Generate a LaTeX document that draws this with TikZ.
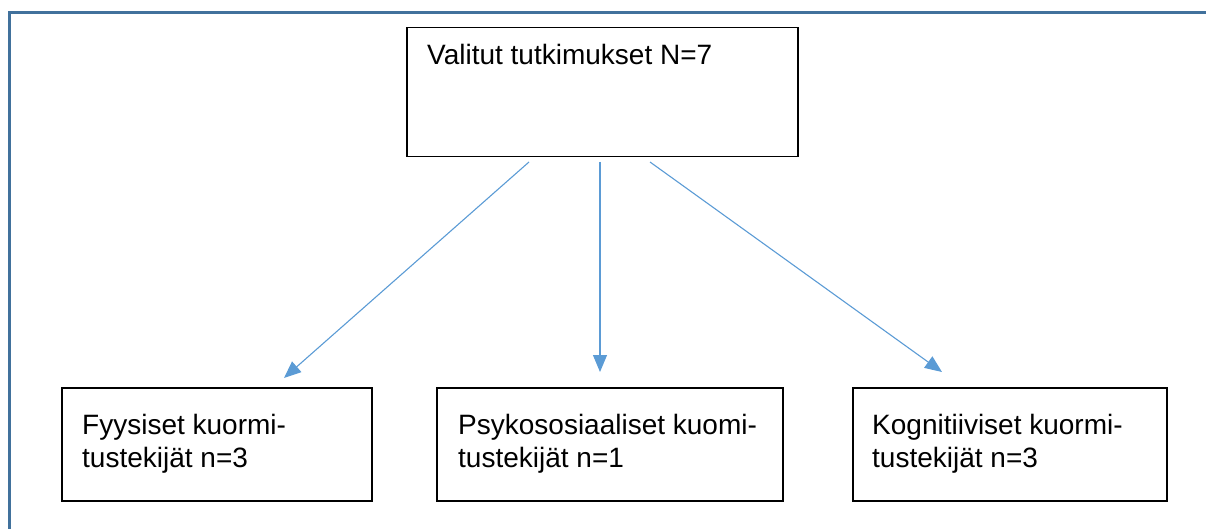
\documentclass[tikz,border=0pt]{standalone}
\usepackage{fontspec}
\setmainfont{Liberation Sans}
\usetikzlibrary{arrows.meta,calc}
\definecolor{frameblue}{HTML}{41719C}
\definecolor{arrowblue}{HTML}{5B9BD5}
\tikzset{
  box/.style={draw=black, line width=1.5pt, rectangle, inner sep=0pt, anchor=north west},
  boxtext/.style={anchor=base west, inner sep=0pt, align=left, font=\fontsize{28}{33}\selectfont},
  conn/.style={draw=arrowblue, line width=1.1pt, -{Triangle[length=17pt,width=14pt]}},
  frameline/.style={draw=frameblue, line width=3pt}
}
\begin{document}
\begin{tikzpicture}[x=1pt,y=-1pt]
\useasboundingbox (0,0) rectangle (1206,529);
% frame
\coordinate (fb) at (9,529);
\coordinate (fc) at (9,13);
\coordinate (fr) at (1206,13);
\draw[frameline] (fb) -- (fc) -- (fr);
% boxes
\node[box, minimum width=391pt, minimum height=129pt] (top) at (406,27) {};
\node[boxtext] (toptext) at ($(top.north west)+(21,38)$) {Valitut tutkimukset N=7};
\node[box, minimum width=310pt, minimum height=113pt] (left) at (61,387) {};
\node[boxtext] (lefttext) at ($(left.north west)+(21,80)$) {Fyysiset kuormi-\\tustekijät n=3};
\node[box, minimum width=346pt, minimum height=113pt] (mid) at (436,387) {};
\node[boxtext] (midtext) at ($(mid.north west)+(22,80)$) {Psykososiaaliset kuomi-\\tustekijät n=1};
\node[box, minimum width=314pt, minimum height=113pt] (right) at (852,387) {};
\node[boxtext] (righttext) at ($(right.north west)+(20,80)$) {Kognitiiviset kuormi-\\tustekijät n=3};
% arrows
\coordinate (s1) at (529,162);
\coordinate (e1) at (284,378);
\coordinate (s2) at (600,162);
\coordinate (e2) at (600,372);
\coordinate (s3) at (650,162);
\coordinate (e3) at (942,372);
\draw[conn] (s1) -- (e1);
\draw[conn] (s2) -- (e2);
\draw[conn] (s3) -- (e3);
\end{tikzpicture}
\end{document}
